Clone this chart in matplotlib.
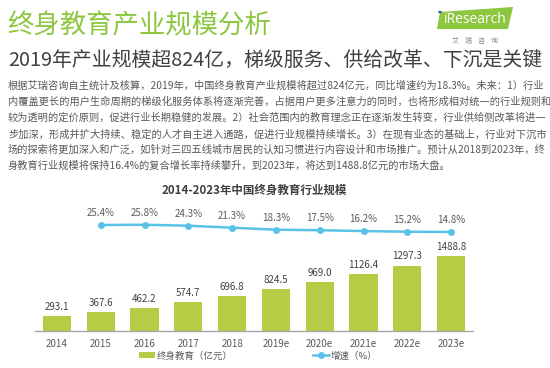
import matplotlib
matplotlib.use("Agg")
import matplotlib.pyplot as plt
from matplotlib.patches import Polygon, Circle

plt.rcParams['font.family'] = ['Noto Sans CJK SC', 'DejaVu Sans']

years = ['2014', '2015', '2016', '2017', '2018', '2019e', '2020e', '2021e', '2022e', '2023e']
scale = [293.1, 367.6, 462.2, 574.7, 696.8, 824.5, 969.0, 1126.4, 1297.3, 1488.8]
growth = [25.4, 25.8, 24.3, 21.3, 18.3, 17.5, 16.2, 15.2, 14.8]  # 2015-2023e

title = '终身教育产业规模分析'
subtitle = '2019年产业规模超824亿，梯级服务、供给改革、下沉是关键'
chart_title = '2014-2023年中国终身教育行业规模'
paragraph = [
    '根据艾瑞咨询自主统计及核算，2019年，中国终身教育产业规模将超过824亿元，同比增速约为18.3%。未来：1）行业',
    '内覆盖更长的用户生命周期的梯级化服务体系将逐渐完善，占据用户更多注意力的同时，也将形成相对统一的行业规则和',
    '较为透明的定价原则，促进行业长期稳健的发展。2）社会范围内的教育理念正在逐渐发生转变，行业供给侧改革将进一',
    '步加深，形成并扩大持续、稳定的人才自主进入通路，促进行业规模持续增长。3）在现有业态的基础上，行业对下沉市',
    '场的探索将更加深入和广泛，如针对三四五线城市居民的认知习惯进行内容设计和市场推广。预计从2018到2023年，终',
    '身教育行业规模将保持16.4%的复合增长率持续攀升，到2023年，将达到1488.8亿元的市场大盘。',
]

W, H = 550, 368
GREEN = '#8DC63F'
BAR = '#B4CD45'
LINE = '#5BC2E7'


def fx(x):
    return x / W


def fy(y):
    return 1 - y / H


fig = plt.figure(figsize=(5.5, 3.68), dpi=100)

# header
fig.text(fx(7), fy(26), title, fontsize=19, color=GREEN, va='center', ha='left')
fig.text(fx(8), fy(60), subtitle, fontsize=14.3, color='#404040', va='center', ha='left')
for i, line in enumerate(paragraph):
    fig.text(fx(8), fy(86 + 16 * i), line, fontsize=7.35, color='#595959', va='center', ha='left')

# logo
fig.patches.append(Polygon([(fx(437), fy(29)), (fx(440), fy(12)), (fx(513), fy(7)), (fx(508), fy(29))],
                           closed=True, transform=fig.transFigure, facecolor=GREEN, edgecolor='none'))
fig.text(fx(475), fy(19.5), 'iResearch', fontsize=10, color='white', va='center', ha='center',
         family='Open Sans')
fig.patches.append(Circle((fx(440), fy(12)), 1.8 / W, transform=fig.transFigure, facecolor='#2B5FA8'))
fig.text(fx(475), fy(41), '艾    瑞    咨    询', fontsize=5, color='#8c8c8c', va='center', ha='center')

fig.text(fx(254), fy(190), chart_title, fontsize=8.3, fontweight='bold', color='#404040',
         va='center', ha='center')

# chart
ax = fig.add_axes([fx(35), 37 / H, 438 / W, 121 / H])
x = list(range(len(years)))
bars = ax.bar(x, scale, width=0.64, color=BAR, label='终身教育（亿元）')
ax.bar_label(bars, labels=[f'{v:.1f}' for v in scale], padding=3, fontsize=7, color='#404040')
ax.set_xlim(-0.5, 9.5)
ax.set_ylim(0, 2402)
ax.set_xticks(x)
ax.set_xticklabels(years)
ax.set_yticks([])
ax.tick_params(axis='x', length=0, pad=6, labelsize=7, labelcolor='#595959')
for s in ['top', 'right', 'left']:
    ax.spines[s].set_visible(False)
ax.spines['bottom'].set_color('#a6a6a6')
ax.spines['bottom'].set_linewidth(1)
ax.patch.set_alpha(0)

ax2 = ax.twinx()
ax2.set_ylim(-135.1, 48.1)
line, = ax2.plot(x[1:], growth, color=LINE, marker='o', markersize=4, linewidth=1.8, label='增速（%）')
for xi, g in zip(x[1:], growth):
    ax2.annotate(f'{g:.1f}%', (xi, g), xytext=(0, 8.6), textcoords='offset points',
                 ha='center', va='center', fontsize=7, color='#595959')
ax2.set_yticks([])
for s in ax2.spines.values():
    s.set_visible(False)

fig.legend([bars, line], ['终身教育（亿元）', '增速（%）'], loc='center',
           bbox_to_anchor=(fx(258), fy(356)), ncol=2, frameon=False, fontsize=6.8,
           handlelength=1.7, handleheight=0.6, columnspacing=8.5, handletextpad=0.2,
           labelcolor='#595959')

fig.savefig('out.png', dpi=100)
